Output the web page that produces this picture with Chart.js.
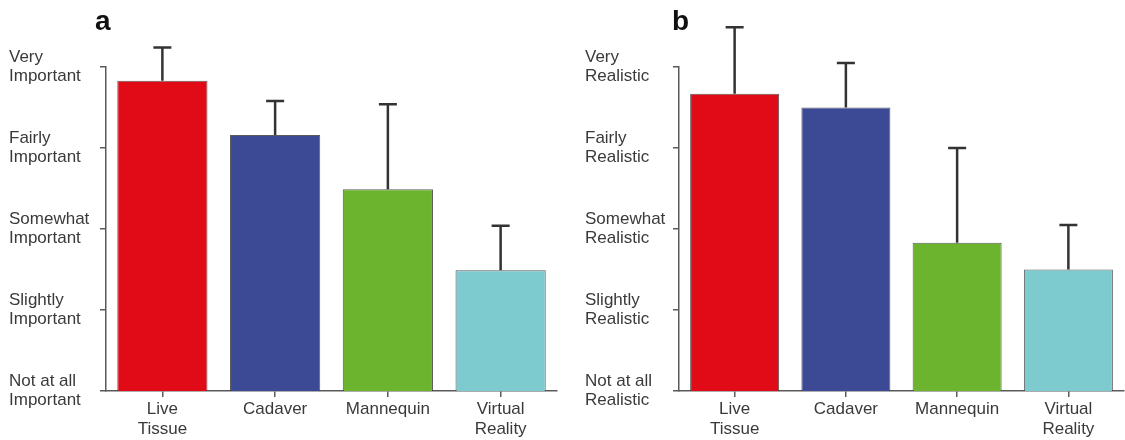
<!DOCTYPE html>
<html>
<head>
<meta charset="utf-8">
<script src="https://cdn.jsdelivr.net/npm/chart.js@4.4.1/dist/chart.umd.min.js"></script>
<style>
  html, body { margin: 0; padding: 0; background: #fff; }
  #wrap { position: relative; width: 1125px; height: 440px; }
  .panel { position: absolute; top: 0; height: 440px; }
</style>
</head>
<body>
<div id="wrap">
  <div class="panel" style="left:0;width:565px"><canvas id="chartA"></canvas></div>
  <div class="panel" style="left:565px;width:560px"><canvas id="chartB"></canvas></div>
</div>
<script>
// data
var categories = [['Live', 'Tissue'], 'Cadaver', 'Mannequin', ['Virtual', 'Reality']];
var barColors = ['#e10a17', '#3c4a96', '#6cb42d', '#7ecbcf'];

var importanceMean = [4.83, 4.16, 3.49, 2.49];
var importanceUpper = [5.24, 4.58, 4.54, 3.04];
var importanceTicks = [['Not at all', 'Important'], ['Slightly', 'Important'], ['Somewhat', 'Important'], ['Fairly', 'Important'], ['Very', 'Important']];

var realismMean = [4.67, 4.50, 2.83, 2.50];
var realismUpper = [5.49, 5.05, 4.00, 3.05];
var realismTicks = [['Not at all', 'Realistic'], ['Slightly', 'Realistic'], ['Somewhat', 'Realistic'], ['Fairly', 'Realistic'], ['Very', 'Realistic']];

var FONT = 'Liberation Sans, Arial, sans-serif';
var axisColor = '#5a5a5a';
var textColor = '#3a3a3a';

// error bars (upper only) + panel letter
var extras = {
  id: 'extras',
  afterDatasetsDraw: function (chart, args, opts) {
    var ctx = chart.ctx;
    var y = chart.scales.y;
    var meta = chart.getDatasetMeta(0);
    ctx.save();
    ctx.strokeStyle = '#333';
    ctx.lineWidth = 2.5;
    meta.data.forEach(function (bar, i) {
      var top = y.getPixelForValue(opts.upper[i]);
      ctx.beginPath();
      ctx.moveTo(bar.x, bar.y);
      ctx.lineTo(bar.x, top);
      ctx.moveTo(bar.x - 9, top);
      ctx.lineTo(bar.x + 9, top);
      ctx.stroke();
    });
    ctx.fillStyle = '#111';
    ctx.font = 'bold 28px ' + FONT;
    ctx.textBaseline = 'alphabetic';
    ctx.fillText(opts.letter, opts.letterX, 30);
    ctx.restore();
  }
};

function makeChart(id, means, upper, tickLabels, letter, letterX, padLeft, padRight, yWidth) {
  var ctx = document.getElementById(id).getContext('2d');
  return new Chart(ctx, {
    type: 'bar',
    data: {
      labels: categories,
      datasets: [{
        data: means,
        backgroundColor: barColors,
        borderColor: 'rgba(50,50,50,0.8)',
        borderWidth: 1,
        barPercentage: 0.8,
        categoryPercentage: 1
      }]
    },
    options: {
      responsive: true,
      maintainAspectRatio: false,
      animation: false,
      layout: { padding: { top: 67, left: padLeft, right: padRight, bottom: 0 } },
      plugins: {
        legend: { display: false },
        tooltip: { enabled: false },
        extras: { upper: upper, letter: letter, letterX: letterX }
      },
      scales: {
        x: {
          ticks: { color: textColor, font: { family: FONT, size: 17, lineHeight: 1.2 }, padding: 2, maxRotation: 0, autoSkip: false },
          grid: { offset: false, drawOnChartArea: false, tickLength: 6, color: axisColor, lineWidth: 1.5 },
          border: { color: axisColor, width: 1.5 },
          afterFit: function (s) { s.height = 49; }
        },
        y: {
          min: 1,
          max: 5,
          ticks: {
            stepSize: 1,
            crossAlign: 'far',
            color: textColor,
            font: { family: FONT, size: 17, lineHeight: 1.15 },
            callback: function (v) { return tickLabels[v - 1]; }
          },
          grid: { drawOnChartArea: false, tickLength: 6, color: axisColor, lineWidth: 1.5 },
          border: { color: axisColor, width: 1.5 },
          afterFit: function (s) { s.width = yWidth; }
        }
      }
    },
    plugins: [extras]
  });
}

makeChart('chartA', importanceMean, importanceUpper, importanceTicks, 'a', 95, 9, 8, 97);
makeChart('chartB', realismMean, realismUpper, realismTicks, 'b', 107, 20, 1, 94);
</script>
</body>
</html>
